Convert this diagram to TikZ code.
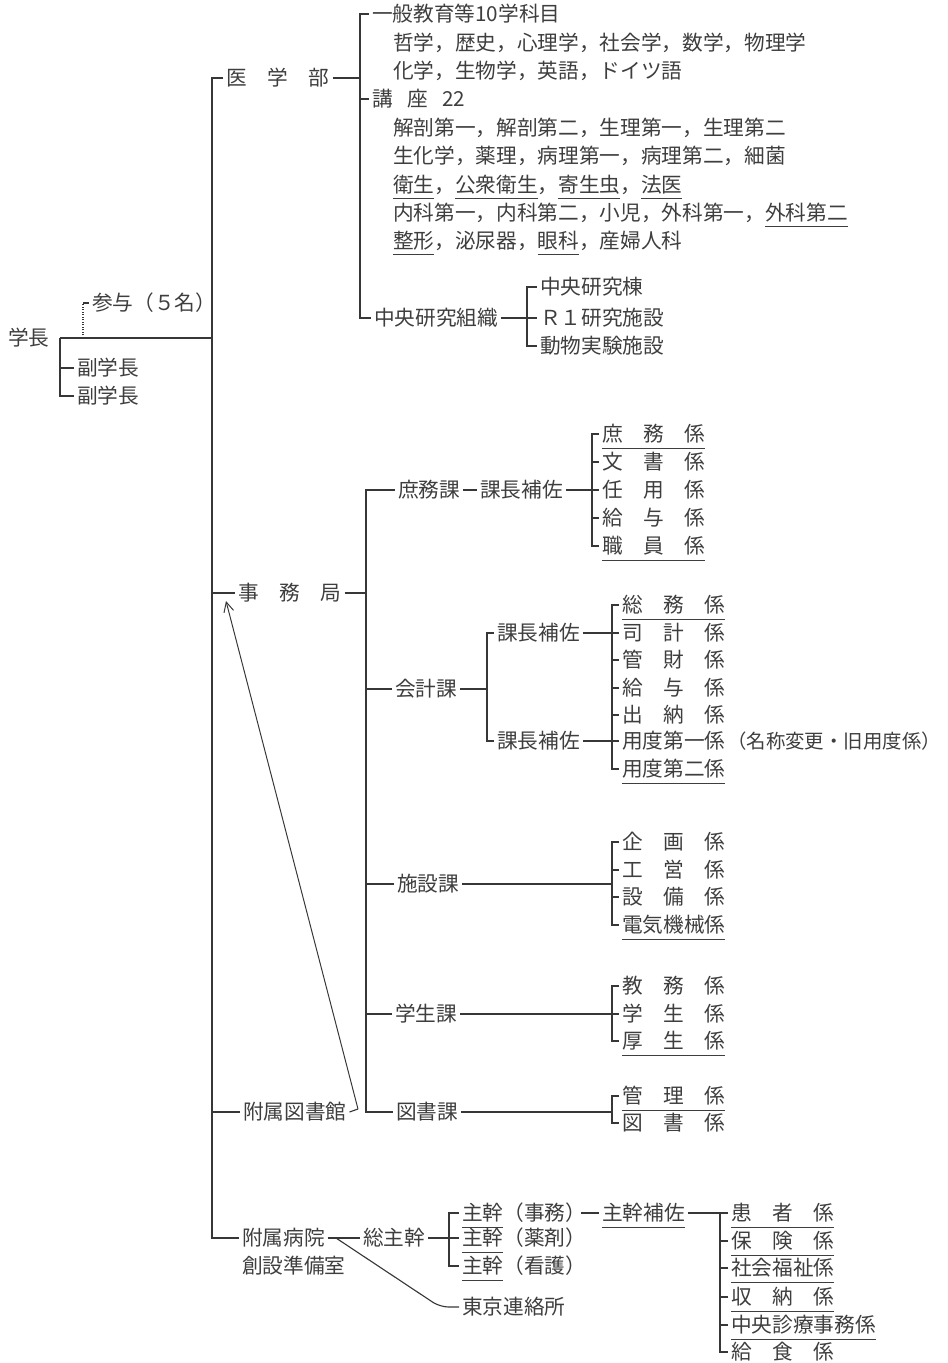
\documentclass[tikz,border=0pt]{standalone}
\usepackage{fontspec}
\setmainfont{Noto Sans CJK JP}
\usepackage{xcolor}
\usetikzlibrary{arrows.meta}
\definecolor{inkgray}{RGB}{62,62,62}
\definecolor{rulegray}{RGB}{55,55,55}
\newcommand{\kasen}[1]{\setbox0\hbox{#1}\rlap{\smash{\rule[-0.32em]{\wd0}{0.6pt}}}\box0}

\begin{document}
\begin{tikzpicture}[x=0.025cm, y=-0.025cm,
    font=\fontsize{14.7}{17}\selectfont,
    unit/.style={anchor=west, inner sep=2pt, text=inkgray},
    link/.style={draw=rulegray, line width=0.8pt},
    boldlink/.style={draw=rulegray, line width=1.7pt},
    pointer/.style={draw=rulegray, line width=0.7pt,
                    -{Straight Barb[length=7pt, width=7pt]}}
]
\useasboundingbox (0,0) rectangle (948,1363);

%% ── President ──────────────────────────────────────────────────────────
\node[unit] (gakucho) at (5,338)  {学長};
\node[unit] (sanyo)   at (89,303) {参与（５名）};
\node[unit] (fukuA)   at (74,368) {副学長};
\node[unit] (fukuB)   at (74,396) {副学長};
\coordinate (jA)   at (60,338);
\coordinate (sA)   at (83,338);
\coordinate (tBot) at (212,1238);

%% ── Faculty of medicine ────────────────────────────────────────────────
\node[unit] (igakubu) at (223,78)  {医　学　部};
\node[unit] (ippan)   at (369,14)  {一般教育等10学科目};
\node[unit] (ippanA)  at (390,43)  {哲学，歴史，心理学，社会学，数学，物理学};
\node[unit] (ippanB)  at (390,71)  {化学，生物学，英語，ドイツ語};
\node[unit] (koza)    at (369,99)  {講\hspace{0.7em}座\hspace{0.7em}22};
\node[unit] (kozaA)   at (390,128) {解剖第一，解剖第二，生理第一，生理第二};
\node[unit] (kozaB)   at (390,156) {生化学，薬理，病理第一，病理第二，細菌};
\node[unit] (kozaC)   at (390,185) {\kasen{衛生}，\kasen{公衆衛生}，\kasen{寄生虫}，\kasen{法医}};
\node[unit] (kozaD)   at (390,213) {内科第一，内科第二，小児，外科第一，\kasen{外科第二}};
\node[unit] (kozaE)   at (390,241) {\kasen{整形}，泌尿器，\kasen{眼科}，産婦人科};
\node[unit] (chuo)    at (371,318) {中央研究組織};
\node[unit] (chuoA)   at (537,287) {中央研究棟};
\node[unit] (chuoB)   at (537,318) {Ｒ１研究施設};
\node[unit] (chuoC)   at (537,346) {動物実験施設};
\coordinate (igJ) at (360,78);
\coordinate (chJ) at (527,318);

%% ── Secretariat ────────────────────────────────────────────────────────
\node[unit] (jimu)     at (235,593) {事　務　局};
\coordinate (jmJ) at (366,593);

\node[unit] (shomuka)  at (395,490) {庶務課};
\node[unit] (shokacho) at (477,490) {課長補佐};
\node[unit] (shomu)    at (599,434) {\kasen{庶　務　係}};
\node[unit] (bunsho)   at (599,462) {文　書　係};
\node[unit] (ninyo)    at (599,490) {任　用　係};
\node[unit] (kyuyoA)   at (599,518) {給　与　係};
\node[unit] (shokuin)  at (599,546) {\kasen{職　員　係}};
\coordinate (sJ) at (592,490);

\node[unit] (kaikeika) at (392,689) {会計課};
\node[unit] (kachoA)   at (494,633) {課長補佐};
\node[unit] (kachoB)   at (494,741) {課長補佐};
\node[unit] (somu)     at (619,605) {\kasen{総　務　係}};
\node[unit] (shikei)   at (619,633) {司　計　係};
\node[unit] (kanzai)   at (619,660) {管　財　係};
\node[unit] (kyuyoB)   at (619,688) {給　与　係};
\node[unit] (suito)    at (619,715) {出　納　係};
\node[unit] (yodoA)    at (619,741) {用度第一係};
\node[unit] (yodoB)    at (619,769) {\kasen{用度第二係}};
\node[unit, font=\fontsize{13.8}{16}\selectfont] (yodonote) at (733,741)
      {\kern-0.45em（名称変更・旧用度係）\kern-0.45em};
\coordinate (kJ)  at (487,689);
\coordinate (kkJ) at (612,633);

\node[unit] (shisetsuka) at (394,884) {施設課};
\node[unit] (kikaku)     at (619,842) {企　画　係};
\node[unit] (koei)       at (619,870) {工　営　係};
\node[unit] (setsubi)    at (619,897) {設　備　係};
\node[unit] (denki)      at (619,925) {\kasen{電気機械係}};
\coordinate (shJ) at (612,884);

\node[unit] (gakuseika)  at (392,1014) {学生課};
\node[unit] (kyomu)      at (619,986)  {教　務　係};
\node[unit] (gakusei)    at (619,1014) {学　生　係};
\node[unit] (kosei)      at (619,1041) {\kasen{厚　生　係}};
\coordinate (gJ) at (612,1014);

\node[unit] (toshoka)    at (393,1112) {図書課};
\node[unit] (kanri)      at (619,1096) {\kasen{管　理　係}};
\node[unit] (toshogk)    at (619,1123) {図　書　係};
\coordinate (tJ) at (612,1112);

%% ── Library ────────────────────────────────────────────────────────────
\node[unit] (toshokan) at (240,1112) {附属図書館};
\coordinate (arwS) at (358,1109);
\coordinate (arwE) at (226,601);

%% ── Hospital preparation office ────────────────────────────────────────
\node[unit] (byoin)    at (239,1238) {附属病院};
\node[unit] (byoinB)   at (239,1266) {創設準備室};
\node[unit] (sokan)    at (360,1238) {総主幹};
\node[unit] (shukanA)  at (459,1213) {\kasen{主幹}（事務）\kern-0.4em};
\node[unit] (shukanB)  at (459,1238) {\kasen{主幹}（薬剤）};
\node[unit] (shukanC)  at (459,1266) {\kasen{主幹}（看護）};
\node[unit] (hosa)     at (599,1213) {\kasen{主幹補佐}};
\node[unit] (kanja)    at (728,1213) {\kasen{患　者　係}};
\node[unit] (hoken)    at (728,1241) {\kasen{保　険　係}};
\node[unit] (fukushi)  at (728,1268) {\kasen{社会福祉係}};
\node[unit] (shuno)    at (728,1297) {\kasen{収　納　係}};
\node[unit] (shinryo)  at (728,1325) {\kasen{中央診療事務係}};
\node[unit] (kyushoku) at (728,1352) {給　食　係};
\node[unit] (tokyo)    at (459,1307) {東京連絡所};
\coordinate (skJ) at (449,1238);
\coordinate (hsJ) at (720,1213);
\coordinate (tkS) at (336,1238);
\coordinate (tkB) at (440,1307);

%% ── Trunk and president lines ──────────────────────────────────────────
\draw[link] (igakubu.west) -| (tBot) -- (byoin.west);
\draw[link] (jimu.west) -- (jimu.west -| tBot);
\draw[link] (toshokan.west) -- (toshokan.west -| tBot);
\draw[link] (jA) -- (jA -| tBot);
\draw[link] (jA) |- (fukuB.west);
\draw[link] (fukuA.west) -- (fukuA.west -| jA);
\draw[link, densely dotted] (sA) -- (sA |- sanyo.west);
\draw[link] (sA |- sanyo.west) -- (sanyo.west);

%% ── Medicine lines ─────────────────────────────────────────────────────
\draw[link] (igakubu.east) -- (igJ);
\draw[link] (ippan.west) -| (igJ |- chuo.west) -- (chuo.west);
\draw[link] (koza.west) -- (koza.west -| igJ);
\draw[link] (chuo.east) -- (chuoB.west);
\draw[link] (chuoA.west) -| (chJ |- chuoC.west) -- (chuoC.west);

%% ── Secretariat lines ──────────────────────────────────────────────────
\draw[link] (jimu.east) -- (jmJ);
\draw[link] (shomuka.west) -| (jmJ |- toshoka.west) -- (toshoka.west);
\draw[link] (kaikeika.west) -- (kaikeika.west -| jmJ);
\draw[link] (shisetsuka.west) -- (shisetsuka.west -| jmJ);
\draw[link] (gakuseika.west) -- (gakuseika.west -| jmJ);

\draw[link] (shomuka.east) -- (shokacho.west);
\draw[link] (shokacho.east) -- (ninyo.west);
\draw[link] (shomu.west) -| (sJ |- shokuin.west) -- (shokuin.west);
\draw[link] (bunsho.west) -- (bunsho.west -| sJ);
\draw[link] (kyuyoA.west) -- (kyuyoA.west -| sJ);

\draw[link] (kaikeika.east) -- (kJ);
\draw[link] (kachoA.west) -| (kJ |- kachoB.west) -- (kachoB.west);
\draw[boldlink] (kachoA.east) -- (shikei.west);
\draw[link] (kachoB.east) -- (yodoA.west);
\draw[link] (somu.west) -| (kkJ |- yodoB.west) -- (yodoB.west);
\draw[link] (kanzai.west) -- (kanzai.west -| kkJ);
\draw[link] (kyuyoB.west) -- (kyuyoB.west -| kkJ);
\draw[link] (suito.west) -- (suito.west -| kkJ);

\draw[link] (shisetsuka.east) -- (shJ);
\draw[link] (kikaku.west) -| (shJ |- denki.west) -- (denki.west);
\draw[link] (koei.west) -- (koei.west -| shJ);
\draw[link] (setsubi.west) -- (setsubi.west -| shJ);

\draw[link] (gakuseika.east) -- (gakusei.west);
\draw[link] (kyomu.west) -| (gJ |- kosei.west) -- (kosei.west);

\draw[link] (toshoka.east) -- (tJ);
\draw[link] (kanri.west) -| (tJ |- toshogk.west) -- (toshogk.west);

%% ── Library arrow ──────────────────────────────────────────────────────
\draw[link] (toshokan.east) -- (arwS);
\draw[pointer] (arwS) -- (arwE);

%% ── Hospital lines ─────────────────────────────────────────────────────
\draw[link] (byoin.east) -- (sokan.west);
\draw[link] (sokan.east) -- (shukanB.west);
\draw[link] (shukanA.west) -| (skJ |- shukanC.west) -- (shukanC.west);
\draw[link] (shukanA.east) -- (hosa.west);
\draw[link] (hosa.east) -- (kanja.west);
\draw[link] (kanja.west) -| (hsJ |- kyushoku.west) -- (kyushoku.west);
\draw[link] (hoken.west) -- (hoken.west -| hsJ);
\draw[link] (fukushi.west) -- (fukushi.west -| hsJ);
\draw[link] (shuno.west) -- (shuno.west -| hsJ);
\draw[link] (shinryo.west) -- (shinryo.west -| hsJ);
\draw[link, rounded corners=6pt] (tkS) -- (tkB) -- (tokyo.west);
\end{tikzpicture}
\end{document}
